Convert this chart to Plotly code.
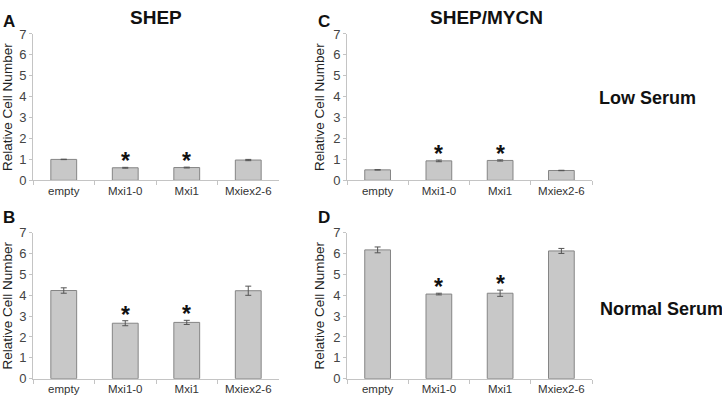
import plotly.graph_objects as go

categories = ["empty", "Mxi1-0", "Mxi1", "Mxiex2-6"]

a_vals = [1.0, 0.60, 0.61, 0.97]
a_err = [0.01, 0.02, 0.02, 0.03]
b_vals = [4.23, 2.66, 2.70, 4.22]
b_err = [0.13, 0.12, 0.10, 0.22]
c_vals = [0.50, 0.93, 0.95, 0.47]
c_err = [0.01, 0.04, 0.03, 0.01]
d_vals = [6.18, 4.06, 4.10, 6.13]
d_err = [0.14, 0.04, 0.15, 0.12]

sig = ["Mxi1-0", "Mxi1"]

panels = [
    ("A", a_vals, a_err, "x", "y"),
    ("B", b_vals, b_err, "x2", "y2"),
    ("C", c_vals, c_err, "x3", "y3"),
    ("D", d_vals, d_err, "x4", "y4"),
]

FONT = "Liberation Sans, Arial, sans-serif"
W, H = 722, 404

fig = go.Figure()
annotations = []
for letter, vals, errs, xa, ya in panels:
    fig.add_trace(go.Bar(
        x=categories, y=vals, xaxis=xa, yaxis=ya,
        marker=dict(color="#c8c8c8", line=dict(color="#858585", width=1)),
        error_y=dict(type="data", array=errs, visible=True, color="#555555",
                     thickness=1, width=3),
        showlegend=False, hoverinfo="skip",
    ))
    for cat, v, e in zip(categories, vals, errs):
        if cat in sig:
            annotations.append(dict(
                x=cat, y=v + e, xref=xa, yref=ya, text="<b>*</b>", showarrow=False,
                yanchor="middle", yshift=6,
                font=dict(family=FONT, size=23, color="#111111"),
            ))

xl = [33 / W, 279 / W]
xr = [347 / W, 592 / W]
yt = [1 - 180 / H, 1 - 28 / H]
yb = [1 - 386 / H, 1 - 234.5 / H]

def xaxis(dom, anchor):
    return dict(domain=dom, anchor=anchor, type="category",
                showline=True, linecolor="#c4c4c4", linewidth=1,
                ticks="outside", tickson="boundaries", ticklen=4,
                tickcolor="#c4c4c4", showgrid=False, zeroline=False,
                tickfont=dict(family=FONT, size=11.5, color="#333333"),
                fixedrange=True)

def yaxis(dom, anchor):
    return dict(domain=dom, anchor=anchor, range=[0, 7], dtick=1,
                showline=True, linecolor="#c4c4c4", linewidth=1,
                ticks="outside", ticklen=3, tickcolor="#c4c4c4",
                showgrid=False, zeroline=False,
                tickfont=dict(family=FONT, size=13, color="#444444"),
                title=dict(text="Relative Cell Number",
                           font=dict(family=FONT, size=13.5, color="#222222"),
                           standoff=5),
                fixedrange=True)

fig.update_layout(
    width=W, height=H, margin=dict(l=0, r=0, t=0, b=0),
    paper_bgcolor="white", plot_bgcolor="white",
    bargap=0.58,
    xaxis=xaxis(xl, "y"), yaxis=yaxis(yt, "x"),
    xaxis2=xaxis(xl, "y2"), yaxis2=yaxis(yb, "x2"),
    xaxis3=xaxis(xr, "y3"), yaxis3=yaxis(yt, "x3"),
    xaxis4=xaxis(xr, "y4"), yaxis4=yaxis(yb, "x4"),
)

def paper_text(text, px, py, size, bold=True, xanchor="center"):
    annotations.append(dict(
        x=px / W, y=1 - py / H, xref="paper", yref="paper",
        text=f"<b>{text}</b>" if bold else text, showarrow=False,
        xanchor=xanchor, yanchor="middle",
        font=dict(family=FONT, size=size, color="#111111"),
    ))

paper_text("A", 9, 15, 17)
paper_text("B", 9, 219, 17)
paper_text("C", 323.5, 15, 17)
paper_text("D", 323.5, 219, 17)
paper_text("SHEP", 156, 11, 19)
paper_text("SHEP/MYCN", 486, 11, 19)
paper_text("Low Serum", 647, 94, 18)
paper_text("Normal Serum", 661, 314, 18)

fig.update_layout(annotations=annotations)
fig.write_html(
    "out.html",
    config={"displayModeBar": False},
    post_script="document.body.style.margin='0';document.body.style.overflow='hidden';",
)
